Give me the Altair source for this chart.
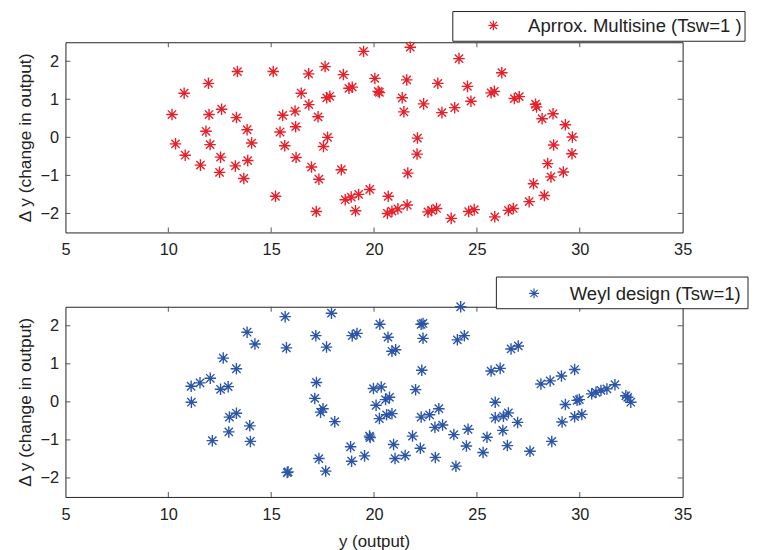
import altair as alt
import pandas as pd

# ---------------- data ----------------
top_x = [10.18, 10.77, 11.95, 13.36, 15.10, 11.98, 12.59, 13.31, 11.83, 13.83,
         10.35, 12.03, 14.05, 10.82, 12.54, 13.86, 11.56, 13.26, 12.49, 13.67,
         15.21, 19.49, 21.76, 24.13, 16.82, 17.62, 18.51, 20.04, 21.59, 23.10,
         24.54, 16.46, 17.70, 17.85, 18.78, 18.94, 20.20, 20.26, 21.37, 22.41,
         23.30, 23.92, 24.71, 21.45, 16.83, 16.16, 15.56, 17.28, 16.19, 15.43,
         17.74, 17.54, 15.66, 22.11, 22.09, 16.21, 16.96, 18.41, 17.32, 21.64,
         17.19, 18.60, 18.89, 19.25, 19.79, 19.10, 20.69, 20.65, 20.87, 21.16,
         21.61, 22.62, 22.80, 23.04, 23.75, 24.60, 24.87,
         26.21, 25.69, 25.85, 26.82, 27.06, 27.85, 27.90, 28.17, 28.70, 29.30,
         29.64, 28.73, 29.62, 28.44, 29.20, 28.60, 27.75, 28.28, 27.54, 26.53,
         26.77, 25.87]
top_y = [0.60, 1.16, 1.42, 1.73, 1.73, 0.60, 0.74, 0.52, 0.16, 0.20,
         -0.17, -0.19, -0.15, -0.47, -0.52, -0.61, -0.73, -0.75, -0.92, -1.08,
         -1.55, 2.26, 2.37, 2.07, 1.67, 1.86, 1.65, 1.55, 1.51, 1.42,
         1.34, 1.16, 1.04, 1.08, 1.29, 1.32, 1.21, 1.18, 1.04, 0.88,
         0.65, 0.78, 0.95, 0.67, 0.86, 0.69, 0.58, 0.54, 0.28, 0.14,
         0.00, -0.24, -0.22, -0.02, -0.44, -0.53, -0.78, -0.85, -1.10, -0.94,
         -1.95, -1.64, -1.57, -1.50, -1.37, -1.93, -1.55, -2.00, -1.94, -1.88,
         -1.78, -1.96, -1.92, -1.87, -2.13, -1.95, -1.90,
         1.70, 1.17, 1.21, 1.02, 1.07, 0.87, 0.80, 0.49, 0.62, 0.33,
         0.01, -0.20, -0.43, -0.69, -0.91, -1.04, -1.22, -1.53, -1.69, -1.92,
         -1.87, -2.09]

bot_x = [13.83, 14.21, 12.67, 13.31, 12.04, 11.54, 11.11, 12.54, 12.91, 11.12,
         13.31, 12.97, 13.96, 12.94, 12.14, 13.99,
         15.68, 17.93, 15.74, 17.17, 17.69, 18.94, 19.17, 20.28, 20.68, 20.87,
         21.05, 22.29, 22.38, 22.38, 24.21, 24.05, 24.39, 22.32, 22.02, 17.20,
         17.12, 17.52, 17.40, 18.09, 19.97, 20.35, 20.56, 20.75, 20.10, 20.26,
         20.61, 20.87, 22.29, 22.70, 23.15, 22.96, 23.33, 23.88, 24.57, 19.81,
         19.78, 21.87, 18.86, 20.95, 22.25, 24.49, 17.32, 18.91, 19.54, 21.02,
         21.51, 22.98, 23.98, 25.30, 15.82, 15.78, 17.65,
         26.66, 27.01, 25.69, 26.13, 28.11, 28.56, 29.11, 29.75, 25.89, 25.89,
         26.29, 26.53, 26.98, 26.26, 25.49, 26.48, 27.58, 28.64, 29.14, 29.30,
         29.75, 30.10, 29.87, 29.98, 30.58, 30.79, 31.03, 31.32, 31.71, 32.24,
         32.33, 32.48]
bot_y = [1.83, 1.52, 1.15, 0.87, 0.62, 0.50, 0.41, 0.33, 0.40, -0.01,
         -0.30, -0.40, -0.63, -0.79, -1.02, -1.04,
         2.24, 2.33, 1.42, 1.74, 1.44, 1.74, 1.80, 2.04, 1.70, 1.33,
         1.37, 2.04, 2.06, 1.67, 2.50, 1.63, 1.74, 0.83, 0.32, 0.51,
         0.09, -0.18, -0.27, -0.52, 0.35, 0.39, 0.06, 0.12, -0.09, -0.44,
         -0.34, -0.31, -0.40, -0.34, -0.18, -0.67, -0.61, -0.86, -0.72, -0.94,
         -0.90, -0.90, -1.18, -1.12, -1.22, -1.16, -1.49, -1.56, -1.42, -1.49,
         -1.41, -1.46, -1.69, -1.33, -1.84, -1.86, -1.82,
         1.39, 1.47, 0.81, 0.88, 0.47, 0.55, 0.68, 0.85, -0.01, -0.42,
         -0.38, -0.29, -0.54, -0.75, -0.93, -1.15, -1.30, -1.04, -0.53, -0.07,
         -0.39, -0.33, 0.04, 0.06, 0.21, 0.25, 0.30, 0.34, 0.45, 0.16,
         0.12, -0.01]

x_ticks = [5, 10, 15, 20, 25, 30, 35]
y_ticks = [-2, -1, 0, 1, 2]
top_label = "Aprrox. Multisine (Tsw=1 )"
bot_label = "Weyl design (Tsw=1)"
y_title = "\u0394 y (change in output)"
x_title = "y (output)"

RED = "#e8202a"
BLUE = "#2b55a8"
INK = "#222222"
FONT = "Liberation Sans"
STAR = "M-1,0L1,0M0,-1L0,1M-0.72,-0.72L0.72,0.72M-0.72,0.72L0.72,-0.72"
W, H = 623, 192
TL = 5  # inner tick length


def panel(xs, ys, color, label, box, sym_xy, txt_xy, show_xtitle):
    df = pd.DataFrame({"x": xs, "y": ys})
    xscale = alt.Scale(domain=[5, 35], nice=False, zero=False)
    yscale = alt.Scale(domain=[-2.5, 2.5], nice=False, zero=False)
    xaxis = alt.Axis(values=x_ticks, ticks=False, domain=False, grid=False,
                     labelFontSize=16.5, labelPadding=9.5, labelFont=FONT,
                     labelColor=INK, labelFlush=False,
                     titleFontSize=17, titleFont=FONT, titleFontWeight="normal",
                     titleColor=INK, titlePadding=11)
    yaxis = alt.Axis(values=y_ticks, ticks=False, domain=False, grid=False,
                     labelFontSize=16.5, labelPadding=7, labelFont=FONT,
                     labelColor=INK, labelFlush=False,
                     titleFontSize=17.5, titleFont=FONT, titleFontWeight="normal",
                     titleColor=INK, titlePadding=5)
    if show_xtitle:
        xenc = alt.X("x:Q", scale=xscale, axis=xaxis, title=x_title)
    else:
        xenc = alt.X("x:Q", scale=xscale, axis=xaxis, title=None)
    yenc = alt.Y("y:Q", scale=yscale, axis=yaxis, title=y_title)

    pts = alt.Chart(df).mark_point(shape=STAR, filled=False, size=135,
                                   strokeWidth=1.4, color=color, opacity=1).encode(
        x=xenc, y=yenc)

    txdf = pd.DataFrame({"x": x_ticks[1:-1]})
    tydf = pd.DataFrame({"y": y_ticks})
    tick_style = dict(color="#555555", strokeWidth=1)
    xt_top = alt.Chart(txdf).mark_rule(**tick_style).encode(
        x=xenc, y=alt.value(0), y2=alt.value(TL))
    xt_bot = alt.Chart(txdf).mark_rule(**tick_style).encode(
        x=xenc, y=alt.value(H - TL), y2=alt.value(H))
    yt_left = alt.Chart(tydf).mark_rule(**tick_style).encode(
        y=yenc, x=alt.value(0), x2=alt.value(TL))
    yt_right = alt.Chart(tydf).mark_rule(**tick_style).encode(
        y=yenc, x=alt.value(W - TL), x2=alt.value(W))

    leg = pd.DataFrame({"label": [label]})
    rect = alt.Chart(leg).mark_rect(fill="white", stroke=INK, strokeWidth=1).encode(
        x=alt.value(box[0]), x2=alt.value(box[1]),
        y=alt.value(box[2]), y2=alt.value(box[3]))
    lsym = alt.Chart(leg).mark_point(shape=STAR, filled=False, size=100,
                                     strokeWidth=1.2, color=color, opacity=1).encode(
        x=alt.value(sym_xy[0]), y=alt.value(sym_xy[1]))
    ltxt = alt.Chart(leg).mark_text(align="left", baseline="middle", fontSize=18.7,
                                    font=FONT, color=INK).encode(
        x=alt.value(txt_xy[0]), y=alt.value(txt_xy[1]), text="label:N")

    return alt.layer(pts, xt_top, xt_bot, yt_left, yt_right, rect, lsym, ltxt).properties(
        width=W, height=H)


top = panel(top_x, top_y, RED, top_label,
            box=(391, 686, -31, -1), sym_xy=(432, -17), txt_xy=(467, -16),
            show_xtitle=False)
bot = panel(bot_x, bot_y, BLUE, bot_label,
            box=(435, 689, -30, 2), sym_xy=(473, -13.5), txt_xy=(509, -12.5),
            show_xtitle=True)

chart = alt.vconcat(top, bot, spacing=75, bounds="flush").properties(
    padding={"left": 8, "top": 0, "right": 0, "bottom": 0}
).configure_view(stroke=INK, strokeWidth=1)

chart.save("out.html", embed_options={"renderer": "svg", "actions": False})
